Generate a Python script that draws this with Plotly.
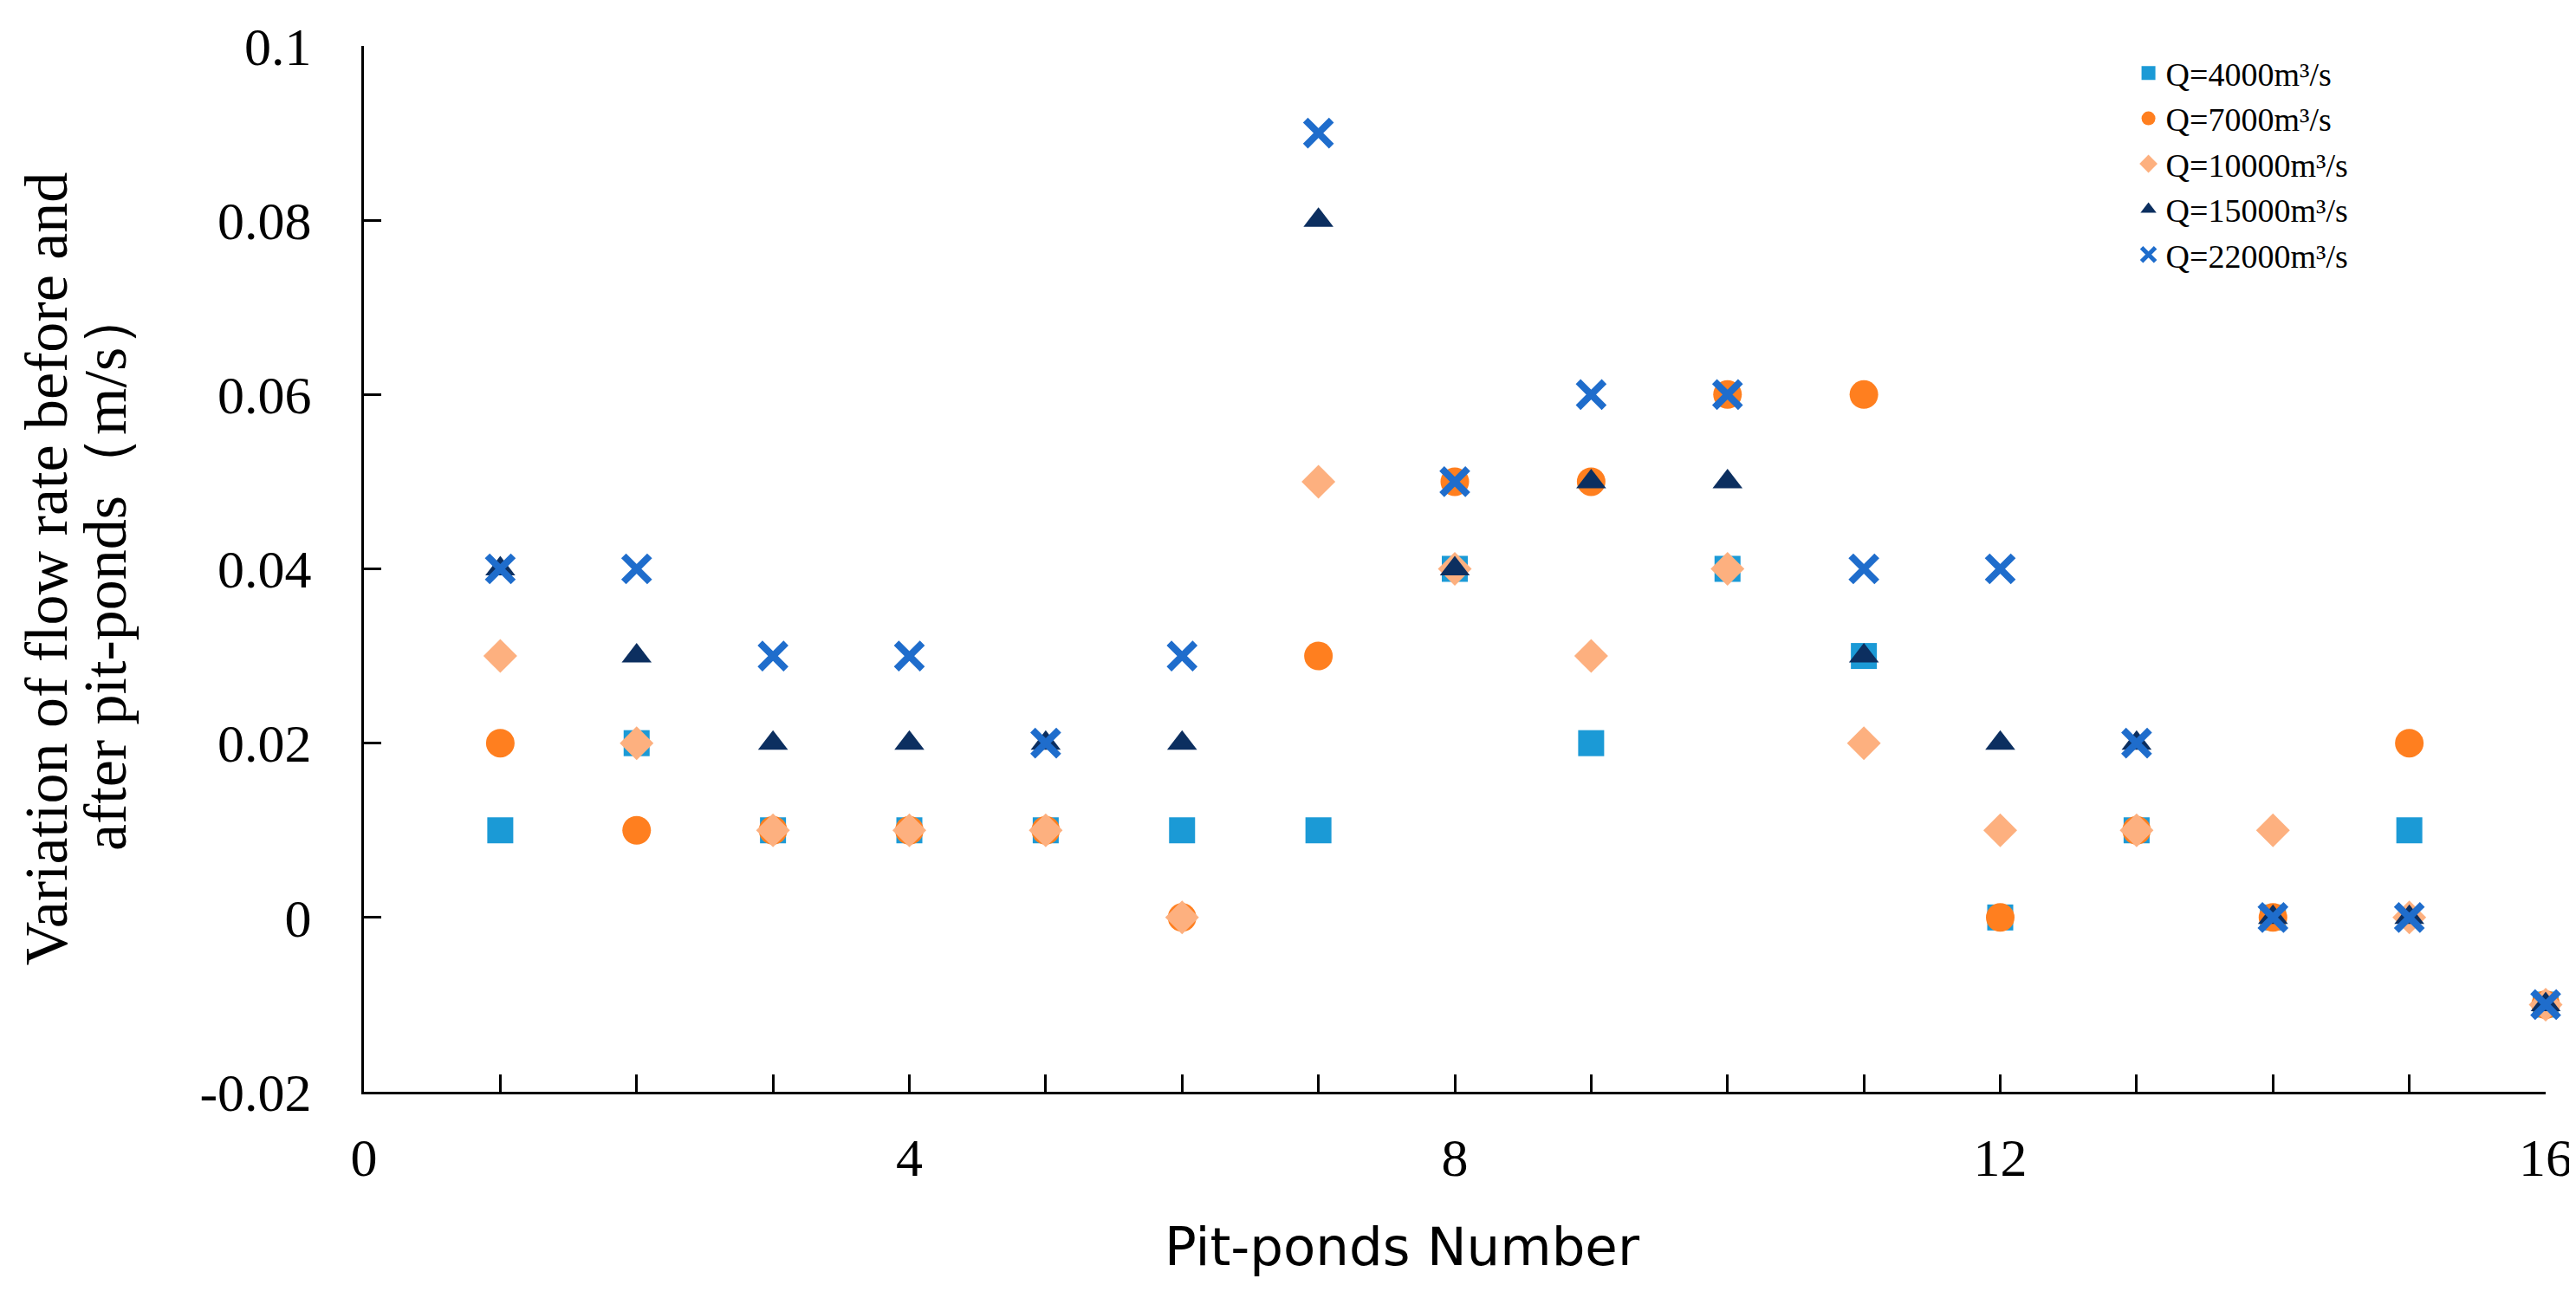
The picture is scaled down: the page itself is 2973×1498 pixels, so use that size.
import plotly.graph_objects as go

pond_numbers = list(range(1, 17))

q4000 = [0.01, 0.02, 0.01, 0.01, 0.01, 0.01, 0.01, 0.04, 0.02, 0.04, 0.03, 0.00, 0.01, 0.00, 0.01, -0.01]
q7000 = [0.02, 0.01, 0.01, 0.01, 0.01, 0.00, 0.03, 0.05, 0.05, 0.06, 0.06, 0.00, 0.01, 0.00, 0.02, -0.01]
q10000 = [0.03, 0.02, 0.01, 0.01, 0.01, 0.00, 0.05, 0.04, 0.03, 0.04, 0.02, 0.01, 0.01, 0.01, 0.00, -0.01]
q15000 = [0.04, 0.03, 0.02, 0.02, 0.02, 0.02, 0.08, 0.04, 0.05, 0.05, 0.03, 0.02, 0.02, 0.00, 0.00, -0.01]
q22000 = [0.04, 0.04, 0.03, 0.03, 0.02, 0.03, 0.09, 0.05, 0.06, 0.06, 0.04, 0.04, 0.02, 0.00, 0.00, -0.01]

series_names = ["Q=4000m³/s", "Q=7000m³/s", "Q=10000m³/s", "Q=15000m³/s", "Q=22000m³/s"]

y_tick_vals = [-0.02, 0, 0.02, 0.04, 0.06, 0.08, 0.1]
y_tick_text = ["-0.02", "0", "0.02", "0.04", "0.06", "0.08", "0.1"]
x_tick_vals = [0, 4, 8, 12, 16]
x_tick_text = ["0", "4", "8", "12", "16"]

x_title = "Pit-ponds Number"
y_title_lines = ["Variation of flow rate before and", "after pit-ponds（m/s）"]

styles = [
    dict(symbol="square", size=30, color="#1b9ad6"),
    dict(symbol="circle", size=33, color="#ff7f1f"),
    dict(symbol="diamond", size=30, color="#fdb07f"),
    dict(symbol="triangle-up", size=30, color="#0c2f60"),
    dict(symbol="x-thin", size=30, color="#1f6dcc", line=dict(width=8, color="#1f6dcc")),
]

fig = go.Figure()
for name, vals, st in zip(series_names, [q4000, q7000, q10000, q15000, q22000], styles):
    fig.add_trace(go.Scatter(
        x=pond_numbers, y=vals, mode="markers", name=name,
        marker=st, cliponaxis=False,
    ))

serif = "Liberation Serif"

fig.update_layout(
    width=2973, height=1498,
    paper_bgcolor="white", plot_bgcolor="white",
    margin=dict(l=412, r=38, t=40, b=246),
    showlegend=True,
    legend=dict(
        x=0.81, y=1.0, xanchor="left", yanchor="top",
        font=dict(family=serif, size=38, color="black"),
        bgcolor="rgba(0,0,0,0)", tracegroupgap=0,
        itemsizing="trace",
    ),
    font=dict(family=serif, color="black"),
)

fig.update_xaxes(
    range=[0, 16], showgrid=False, zeroline=False,
    showline=True, linecolor="black", linewidth=3,
    tickmode="array", tickvals=x_tick_vals, ticktext=x_tick_text,
    ticks="inside", ticklen=20, tickwidth=3, tickcolor="black",
    minor=dict(dtick=1, ticks="inside", ticklen=20, tickwidth=3, tickcolor="black", showgrid=False),
    tickfont=dict(family=serif, size=62, color="black"),
    ticklabelstandoff=20,
)

fig.update_yaxes(
    range=[-0.02, 0.1], showgrid=False, zeroline=False,
    showline=True, linecolor="black", linewidth=3,
    tickmode="array", tickvals=y_tick_vals, ticktext=y_tick_text,
    ticks="inside", ticklen=20, tickwidth=3, tickcolor="black",
    tickfont=dict(family=serif, size=62, color="black"),
    ticklabelstandoff=45,
)

fig.add_annotation(
    text=x_title, xref="paper", yref="paper", x=0.476, y=-0.148,
    xanchor="center", yanchor="middle", showarrow=False,
    font=dict(family="DejaVu Sans", size=61, color="black"),
)
for xpos, line in zip([-0.1455, -0.1185], y_title_lines):
    fig.add_annotation(
        text=line, xref="paper", yref="paper", x=xpos, y=0.5,
        xanchor="center", yanchor="middle", showarrow=False, textangle=-90,
        font=dict(family=serif, size=70, color="black"),
    )

fig.write_html("out.html")
